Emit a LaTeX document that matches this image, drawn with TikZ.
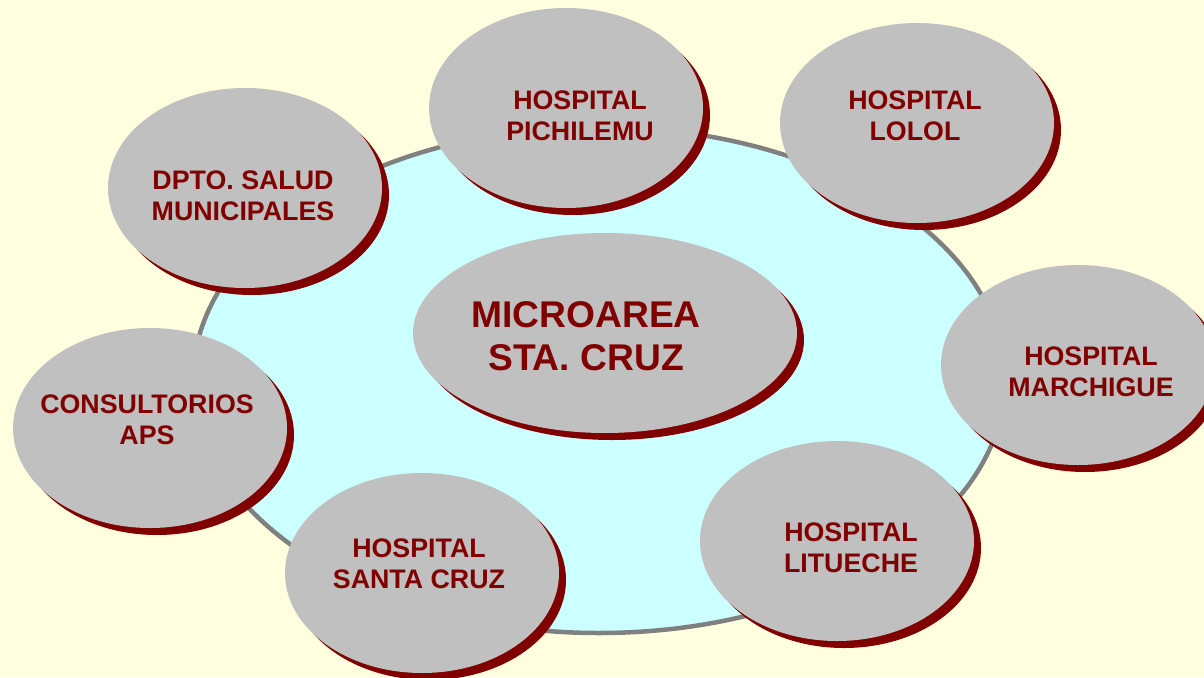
\documentclass[tikz,border=0pt]{standalone}
\usepackage{fontspec}
\setmainfont{Liberation Sans}
\usetikzlibrary{shapes.geometric}
\definecolor{bgyellow}{HTML}{FFFFE0}
\definecolor{ringcyan}{HTML}{CCFFFF}
\definecolor{ringgray}{HTML}{808080}
\definecolor{bubblegray}{HTML}{C0C0C0}
\definecolor{darkred}{HTML}{800000}
\tikzset{
  bubble/.style={ellipse, fill=bubblegray, draw=none, inner sep=0pt,
    minimum width=274pt, minimum height=200pt},
  bubbleshadow/.style={ellipse, fill=darkred, draw=none, inner sep=0pt,
    minimum width=274pt, minimum height=200pt},
  lbl/.style={text=darkred, font=\bfseries\fontsize{26.8}{31}\selectfont, align=center, inner sep=0pt},
  biglbl/.style={text=darkred, font=\bfseries\fontsize{37.2}{43}\selectfont, align=center, inner sep=0pt},
}
\begin{document}
\begin{tikzpicture}[x=1pt,y=-1pt]
\useasboundingbox (0,0) rectangle (1204,677);
\fill[bgyellow] (0,0) rectangle (1204,677);
% big ring
\node[ellipse, fill=ringcyan, draw=ringgray, line width=4.5pt, inner sep=0pt,
  minimum width=812pt, minimum height=506pt] (ring) at (599,380) {};
% bubbles: name / center
\foreach \n/\x/\y in {pichi/566/108, lolol/917/123, dpto/245/188, march/1078/365,
  consul/150/428, scruz/422/573, litu/837/541}{
  \node[bubbleshadow] (\n-sh) at (\x+7,\y+7) {};
  \node[bubble] (\n) at (\x,\y) {};
}
\node[bubbleshadow, minimum width=384pt] (micro-sh) at (612,340) {};
\node[bubble, minimum width=384pt] (micro) at (605,333) {};
% labels
\node[lbl] (t-pichi) at (580,116) {HOSPITAL\\PICHILEMU};
\node[lbl] (t-lolol) at (915,116) {HOSPITAL\\LOLOL};
\node[lbl] (t-dpto) at (243,196) {DPTO. SALUD\\MUNICIPALES};
\node[lbl] (t-march) at (1091,372) {HOSPITAL\\MARCHIGUE};
\node[lbl] (t-consul) at (147,420) {CONSULTORIOS\\APS};
\node[lbl] (t-scruz) at (419,564) {HOSPITAL\\SANTA CRUZ};
\node[lbl] (t-litu) at (851,548) {HOSPITAL\\LITUECHE};
\node[biglbl] (t-micro) at (586,336) {MICROAREA\\STA. CRUZ};
\end{tikzpicture}
\end{document}
